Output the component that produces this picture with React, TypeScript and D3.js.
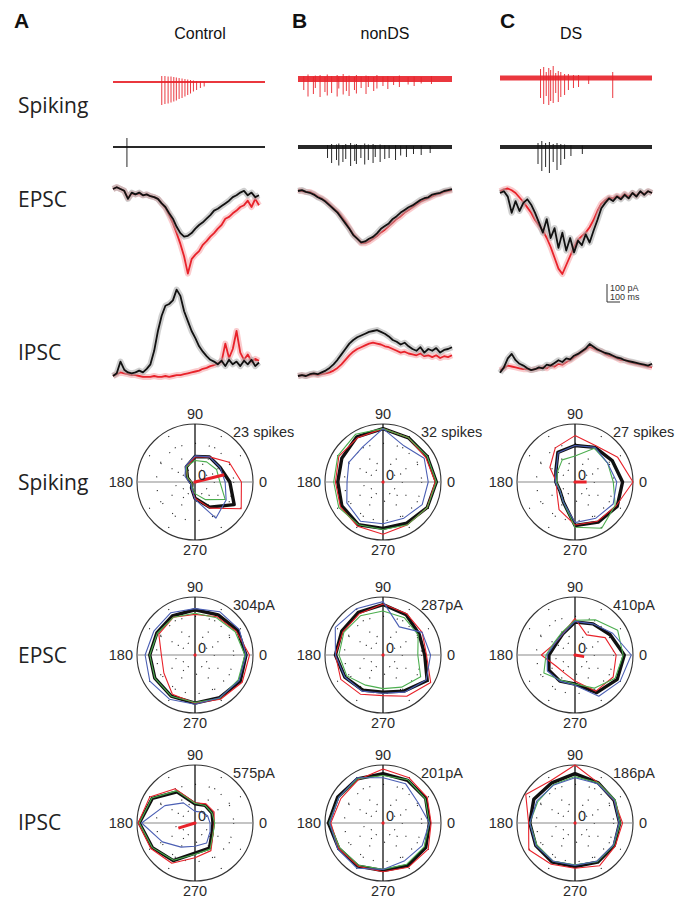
import React from "react";
import * as d3 from "d3";

const W = 683;
const H = 899;

const panelLetters = ["A", "B", "C"];
const columnTitles = ["Control", "nonDS", "DS"];
const rowLabels = ["Spiking", "EPSC", "IPSC"];

// spike trains, time in ms (trace is 1200 ms), amplitudes in uV
const ctlRedSpikeT = [385, 410, 435, 458, 480, 500, 522, 545, 568, 590, 612, 635, 660, 690, 720];
const ctlRedSpikeDown = [230, 220, 215, 205, 195, 185, 170, 160, 145, 130, 115, 95, 80, 60, 45];
const ctlRedSpikeUp = [60, 60, 55, 55, 50, 45, 40, 35, 30, 25, 20, 15, 10, 8, 5];
const ctlBlackSpikeT = [110];
const ctlBlackSpikeDown = [200];
const ctlBlackSpikeUp = [90];

const ndsRedSpikeT = [45, 78, 120, 135, 172, 210, 228, 262, 305, 318, 352, 377, 398, 440, 455, 492, 530, 548, 590, 615, 662, 700, 745, 790, 858, 905, 960, 1040];
const ndsRedSpikeDown = [110, 175, 150, 90, 180, 130, 165, 140, 175, 95, 155, 120, 170, 110, 145, 90, 150, 80, 120, 95, 70, 100, 60, 80, 55, 70, 45, 50];
const ndsRedSpikeUp = [30, 45, 25, 35, 40, 20, 45, 30, 40, 25, 50, 30, 35, 20, 40, 25, 35, 30, 20, 40, 25, 30, 20, 35, 20, 25, 20, 30];
const ndsBlackSpikeT = [230, 262, 300, 318, 350, 372, 410, 442, 455, 490, 520, 548, 585, 602, 640, 676, 710, 760, 800, 845, 900, 960, 1030];
const ndsBlackSpikeDown = [110, 160, 130, 185, 150, 120, 190, 140, 170, 110, 175, 130, 160, 100, 150, 120, 110, 130, 85, 100, 70, 80, 60];
const ndsBlackSpikeUp = [20, 30, 25, 35, 20, 30, 40, 25, 30, 20, 35, 25, 30, 20, 25, 20, 15, 20, 15, 15, 10, 15, 10];

const dsRedSpikeT = [320, 345, 365, 385, 400, 420, 440, 460, 480, 510, 540, 580, 620, 700, 890];
const dsRedSpikeDown = [200, 260, 180, 270, 230, 250, 150, 240, 190, 170, 120, 100, 90, 60, 200];
const dsRedSpikeUp = [90, 110, 60, 100, 80, 120, 50, 70, 60, 40, 40, 30, 30, 20, 60];
const dsBlackSpikeT = [300, 330, 360, 390, 420, 450, 480, 510, 560, 650];
const dsBlackSpikeDown = [170, 240, 200, 260, 150, 230, 180, 120, 90, 70];
const dsBlackSpikeUp = [40, 60, 40, 50, 30, 40, 30, 25, 20, 15];

// current traces, 40 samples each, pA (negative = inward)
const ctlEpscBlack = [0, 10, 0, -10, -55, -20, -30, -20, -35, -30, -40, -45, -55, -80, -100, -135, -165, -210, -245, -265, -260, -245, -220, -200, -185, -165, -145, -120, -110, -95, -80, -65, -45, -35, -20, -10, -35, -20, -45, -35];
const ctlEpscRed = [0, 10, 0, -10, -50, -25, -30, -25, -35, -30, -40, -45, -55, -80, -105, -145, -190, -245, -305, -375, -470, -390, -365, -345, -310, -290, -265, -245, -220, -200, -165, -155, -135, -120, -100, -90, -65, -100, -55, -90];
const ndsEpscBlack = [0, 5, -5, -10, -20, -35, -45, -60, -80, -100, -120, -150, -180, -210, -245, -265, -285, -280, -265, -255, -235, -210, -195, -180, -155, -140, -120, -105, -90, -80, -65, -50, -40, -35, -20, -15, -10, 0, 5, 10];
const ndsEpscRed = [5, 0, -5, -5, -15, -30, -40, -55, -75, -95, -115, -140, -170, -205, -240, -265, -290, -290, -280, -265, -250, -230, -215, -195, -175, -155, -140, -120, -105, -90, -75, -60, -50, -40, -30, -20, -15, -5, 0, 5];
const dsEpscBlack = [0, 10, -20, -110, -45, -100, -55, -35, -65, -110, -165, -220, -145, -250, -195, -305, -220, -320, -250, -330, -265, -290, -230, -275, -210, -150, -85, -55, -30, -45, -20, -35, -10, -30, 0, -20, 10, -10, 10, 0];
const dsEpscRed = [10, 20, 25, 15, 0, -25, -50, -80, -110, -150, -180, -210, -250, -300, -360, -420, -450, -400, -350, -300, -260, -240, -220, -190, -150, -100, -60, -40, -25, -30, -15, -25, -5, -20, 0, -15, 5, -5, 10, 0];

const ctlIpscBlack = [0, 15, 80, 35, 20, 15, 20, 30, 20, 40, 65, 140, 250, 335, 390, 400, 420, 480, 445, 360, 305, 250, 210, 165, 135, 110, 90, 80, 65, 85, 55, 90, 65, 80, 55, 85, 65, 90, 55, 75];
const ctlIpscRed = [0, 10, 20, 15, 10, 5, 5, 0, -5, -5, -5, 0, -5, -5, 0, -5, 0, 5, 5, 10, 15, 20, 25, 30, 40, 45, 55, 60, 70, 80, 180, 100, 150, 250, 130, 90, 120, 80, 95, 85];
const ndsIpscBlack = [0, 5, 0, 10, 15, 10, 20, 30, 45, 65, 90, 120, 150, 180, 200, 215, 225, 235, 245, 250, 255, 245, 235, 220, 200, 190, 175, 185, 165, 150, 140, 160, 130, 150, 140, 155, 130, 145, 150, 160];
const ndsIpscRed = [0, 5, 0, 5, 10, 5, 10, 15, 20, 30, 45, 65, 90, 115, 135, 150, 160, 170, 180, 185, 180, 175, 165, 160, 150, 140, 130, 135, 125, 120, 115, 125, 110, 115, 105, 115, 100, 110, 105, 115];
const dsIpscBlack = [-10, 20, 70, 95, 60, 40, 30, 15, 5, 10, 20, 15, 35, 30, 45, 60, 50, 70, 65, 85, 95, 110, 125, 150, 135, 120, 110, 100, 95, 85, 75, 70, 60, 55, 50, 45, 40, 35, 30, 40];
const dsIpscRed = [5, 15, 30, 25, 20, 15, 10, 10, 5, 10, 15, 20, 15, 30, 25, 40, 35, 50, 60, 75, 90, 105, 120, 135, 125, 115, 110, 95, 85, 80, 70, 60, 60, 50, 45, 40, 35, 30, 25, 20];

// polar tuning, 12 directions, fraction of max; rows: black, red, green, blue
const directions = [0, 30, 60, 90, 120, 150, 180, 210, 240, 270, 300, 330];
const ctlSpikingR = [
  [0.6, 0.5, 0.5, 0.44, 0.3, 0.15, 0.08, 0.06, 0.12, 0.28, 0.5, 0.78],
  [0.8, 0.68, 0.5, 0.43, 0.3, 0.15, 0.06, 0.06, 0.12, 0.28, 0.52, 0.92],
  [0.43, 0.43, 0.4, 0.37, 0.3, 0.15, 0.06, 0.06, 0.1, 0.2, 0.35, 0.6],
  [0.52, 0.5, 0.5, 0.45, 0.32, 0.2, 0.1, 0.08, 0.12, 0.3, 0.72, 0.62],
];
const ndsSpikingR = [
  [0.92, 0.88, 0.88, 0.92, 0.9, 0.82, 0.78, 0.82, 0.85, 0.8, 0.82, 0.88],
  [0.9, 0.85, 0.88, 0.92, 0.88, 0.88, 0.82, 0.85, 0.88, 0.9, 0.85, 0.88],
  [0.92, 0.88, 0.88, 0.92, 0.95, 0.9, 0.85, 0.88, 0.85, 0.82, 0.85, 0.88],
  [0.78, 0.82, 0.72, 0.92, 0.7, 0.68, 0.62, 0.72, 0.78, 0.72, 0.72, 0.78],
];
const dsSpikingR = [
  [0.82, 0.74, 0.69, 0.63, 0.59, 0.38, 0.33, 0.3, 0.4, 0.75, 0.8, 0.84],
  [1.0, 0.85, 0.72, 0.8, 0.68, 0.5, 0.32, 0.36, 0.55, 0.74, 0.78, 0.82],
  [0.66, 0.65, 0.67, 0.45, 0.44, 0.35, 0.32, 0.3, 0.4, 0.78, 0.92, 0.8],
  [0.72, 0.65, 0.69, 0.63, 0.58, 0.38, 0.34, 0.3, 0.4, 0.7, 0.72, 0.76],
];
const ctlEpscR = [
  [0.88, 0.85, 0.8, 0.78, 0.78, 0.76, 0.78, 0.8, 0.82, 0.83, 0.85, 0.9],
  [0.94, 0.82, 0.76, 0.7, 0.75, 0.72, 0.58, 0.62, 0.78, 0.83, 0.88, 0.94],
  [0.86, 0.8, 0.74, 0.72, 0.75, 0.75, 0.78, 0.8, 0.82, 0.82, 0.86, 0.86],
  [0.88, 0.88, 0.86, 0.8, 0.84, 0.82, 0.86, 0.9, 0.88, 0.85, 0.85, 0.88],
];
const ndsEpscR = [
  [0.72, 0.72, 0.8, 0.87, 0.85, 0.82, 0.82, 0.76, 0.7, 0.64, 0.72, 0.88],
  [0.75, 0.78, 0.82, 0.88, 0.82, 0.8, 0.82, 0.84, 0.78, 0.7, 0.82, 0.95],
  [0.6, 0.7, 0.74, 0.76, 0.78, 0.78, 0.76, 0.72, 0.6, 0.58, 0.64, 0.75],
  [0.82, 0.78, 0.56, 0.92, 0.92, 0.95, 0.82, 0.76, 0.72, 0.66, 0.74, 0.86],
];
const dsEpscR = [
  [0.85, 0.7, 0.62, 0.57, 0.42, 0.38, 0.45, 0.52, 0.52, 0.5, 0.75, 0.84],
  [0.71, 0.6, 0.4, 0.63, 0.42, 0.4, 0.58, 0.38, 0.36, 0.45, 0.72, 0.76],
  [0.83, 0.85, 0.7, 0.6, 0.45, 0.42, 0.5, 0.62, 0.5, 0.5, 0.66, 0.8],
  [0.97, 0.75, 0.62, 0.58, 0.42, 0.4, 0.48, 0.55, 0.52, 0.52, 0.82, 0.9],
];
const ctlIpscR = [
  [0.31, 0.34, 0.35, 0.33, 0.62, 0.85, 0.96, 0.85, 0.75, 0.52, 0.5, 0.34],
  [0.33, 0.38, 0.38, 0.35, 0.68, 0.9, 0.98, 0.88, 0.8, 0.6, 0.55, 0.36],
  [0.34, 0.34, 0.35, 0.34, 0.64, 0.86, 0.96, 0.85, 0.74, 0.54, 0.52, 0.36],
  [0.26, 0.25, 0.22, 0.2, 0.4, 0.6, 0.92, 0.65, 0.48, 0.4, 0.4, 0.3],
];
const ndsIpscR = [
  [0.8, 0.85, 0.85, 0.85, 0.88, 0.9, 0.94, 0.88, 0.86, 0.82, 0.85, 0.85],
  [0.83, 0.88, 0.9, 0.93, 0.86, 0.84, 0.9, 0.88, 0.86, 0.84, 0.88, 0.9],
  [0.8, 0.84, 0.86, 0.82, 0.88, 0.88, 0.93, 0.86, 0.84, 0.8, 0.82, 0.82],
  [0.8, 0.7, 0.78, 0.78, 0.9, 0.88, 0.92, 0.9, 0.9, 0.8, 0.75, 0.78],
];
const dsIpscR = [
  [0.77, 0.78, 0.8, 0.85, 0.8, 0.82, 0.78, 0.78, 0.78, 0.75, 0.78, 0.78],
  [0.82, 0.78, 0.8, 1.0, 0.84, 0.98, 0.8, 0.92, 0.82, 0.78, 0.85, 0.8],
  [0.78, 0.8, 0.8, 0.8, 0.76, 0.74, 0.78, 0.76, 0.76, 0.72, 0.77, 0.77],
  [0.76, 0.78, 0.78, 0.78, 0.75, 0.76, 0.78, 0.78, 0.76, 0.73, 0.76, 0.76],
];
const polarMax = [
  ["23 spikes", "32 spikes", "27 spikes"],
  ["304pA", "287pA", "410pA"],
  ["575pA", "201pA", "186pA"],
];
// mean vector (deg, fraction of max)
const vectorAngle = [[14, 0, 0], [0, 0, -10], [197, 0, 0]];
const vectorLen = [[0.52, 0.02, 0.2], [0.02, 0.02, 0.16], [0.3, 0.02, 0.02]];

const RED = "#e8222a";
const PINK = "#f5a0a4";
const GRAY = "#a8a8a8";
const GREEN = "#4cae4f";
const BLUE = "#4b5fb4";

const sans = "'Liberation Sans', Arial, sans-serif";

function SpikeTrain(props: {
  times: number[]; down: number[]; up: number[];
  x0: number; x1: number; base: number; color: string; band: number;
}) {
  const { times, down, up, x0, x1, base, color, band } = props;
  const x = d3.scaleLinear().domain([0, 1200]).range([x0, x1]);
  const y = d3.scaleLinear().domain([0, 100]).range([base, base - 10]);
  return (
    <g>
      <line x1={x0} x2={x1} y1={base} y2={base} stroke={color} strokeWidth={band} opacity={0.9} />
      {times.map((t, i) => (
        <line key={i} x1={x(t)} x2={x(t)} y1={y(up[i])} y2={y(-down[i])} stroke={color} strokeWidth={0.9} />
      ))}
    </g>
  );
}

function Trace(props: { values: number[]; x0: number; x1: number; base: number; color: string; halo: string }) {
  const { values, x0, x1, base, color, halo } = props;
  const x = d3.scaleLinear().domain([0, values.length - 1]).range([x0, x1]);
  const y = d3.scaleLinear().domain([0, 100]).range([base, base - 18]);
  const line = d3.line<number>().x((_, i) => x(i)).y((d) => y(d));
  const d = line(values) || "";
  return (
    <g fill="none" strokeLinejoin="round">
      <path d={d} stroke={halo} strokeWidth={6} opacity={0.55} />
      <path d={d} stroke={color} strokeWidth={1.8} />
    </g>
  );
}

function Polar(props: { cx: number; cy: number; rows: number[][]; label: string; vAng: number; vLen: number }) {
  const { cx, cy, rows, label, vAng, vLen } = props;
  const R = 58;
  const r = d3.scaleLinear().domain([0, 1]).range([0, R]);
  const radial = d3
    .lineRadial<number>()
    .angle((_, i) => ((90 - directions[i]) * Math.PI) / 180)
    .radius((d) => r(d))
    .curve(d3.curveLinearClosed);
  const colors = ["#111", RED, GREEN, BLUE];
  const widths = [3.4, 1.1, 1.1, 1.1];
  const spokes = [30, 60, 120, 150, 210, 240, 300, 330];
  const va = (vAng * Math.PI) / 180;
  return (
    <g transform={`translate(${cx},${cy})`}>
      <circle r={R} fill="none" stroke="#333" strokeWidth={1.1} />
      {[1 / 3, 2 / 3].map((f) => (
        <circle key={f} r={r(f)} fill="none" stroke="#222" strokeWidth={1.2} strokeDasharray="1 13" />
      ))}
      {spokes.map((a) => (
        <line key={a} x1={0} y1={0} x2={r(1) * Math.cos((a * Math.PI) / 180)} y2={-r(1) * Math.sin((a * Math.PI) / 180)}
          stroke="#222" strokeWidth={1.2} strokeDasharray="1 12" />
      ))}
      <line x1={-R} x2={R} y1={0} y2={0} stroke="#8a8a8a" strokeWidth={1.2} />
      <line x1={0} x2={0} y1={-R} y2={R} stroke="#111" strokeWidth={1.3} />
      {rows.map((vals, k) => (
        <path key={k} d={radial(vals) || ""} fill="none" stroke={colors[k]} strokeWidth={widths[k]} strokeLinejoin="round" />
      ))}
      <line x1={0} y1={0} x2={r(vLen) * Math.cos(va)} y2={-r(vLen) * Math.sin(va)} stroke={RED} strokeWidth={3} />
      <circle r={1.6} fill={RED} />
      <g fontFamily={sans} fontSize={14.5} fill="#2a2a2a">
        <text x={0} y={-R - 5} textAnchor="middle">90</text>
        <text x={0} y={R + 15} textAnchor="middle">270</text>
        <text x={-R - 4} y={5} textAnchor="end">180</text>
        <text x={R + 6} y={5}>0</text>
        <text x={3} y={-2}>0</text>
        <text x={38} y={-45}>{label}</text>
      </g>
    </g>
  );
}

export default function App() {
  const spikeX = [[113, 265], [298, 452], [500, 652]];
  const traceX = [[113, 259], [298, 452], [500, 652]];
  const spikeData = [
    { rt: ctlRedSpikeT, rd: ctlRedSpikeDown, ru: ctlRedSpikeUp, bt: ctlBlackSpikeT, bd: ctlBlackSpikeDown, bu: ctlBlackSpikeUp, band: [2, 2], rb: 82 },
    { rt: ndsRedSpikeT, rd: ndsRedSpikeDown, ru: ndsRedSpikeUp, bt: ndsBlackSpikeT, bd: ndsBlackSpikeDown, bu: ndsBlackSpikeUp, band: [6, 4], rb: 79 },
    { rt: dsRedSpikeT, rd: dsRedSpikeDown, ru: dsRedSpikeUp, bt: dsBlackSpikeT, bd: dsBlackSpikeDown, bu: dsBlackSpikeUp, band: [5, 4], rb: 78 },
  ];
  const epsc = [[ctlEpscBlack, ctlEpscRed], [ndsEpscBlack, ndsEpscRed], [dsEpscBlack, dsEpscRed]];
  const ipsc = [[ctlIpscBlack, ctlIpscRed], [ndsIpscBlack, ndsIpscRed], [dsIpscBlack, dsIpscRed]];
  const epscBase = [189, 191, 193];
  const ipscBase = [376, 376, 371];
  const polarRows = [
    [ctlSpikingR, ndsSpikingR, dsSpikingR],
    [ctlEpscR, ndsEpscR, dsEpscR],
    [ctlIpscR, ndsIpscR, dsIpscR],
  ];
  const polarCx = [195, 383, 575];
  const polarCy = [482, 655, 823];
  const letterX = [14, 292, 500];
  const titleX = [200, 385, 571];

  return (
    <svg width={W} height={H} style={{ position: "absolute", left: 0, top: 0, background: "#fff" }}>
      {panelLetters.map((l, i) => (
        <text key={l} x={letterX[i]} y={28} fontFamily={sans} fontWeight="bold" fontSize={21} fill="#111">{l}</text>
      ))}
      {columnTitles.map((t, i) => (
        <text key={t} x={titleX[i]} y={39} textAnchor="middle" fontFamily={sans} fontSize={16} fill="#111">{t}</text>
      ))}
      {[113, 207, 360, 490, 663, 830].map((y, i) => (
        <text key={i} x={18} y={y} fontFamily="'Open Sans', sans-serif" fontSize={21} fill="#222">{rowLabels[i % 3]}</text>
      ))}

      {spikeData.map((s, i) => (
        <g key={i}>
          <SpikeTrain times={s.rt} down={s.rd} up={s.ru} x0={spikeX[i][0]} x1={spikeX[i][1]} base={s.rb} color={RED} band={s.band[0]} />
          <SpikeTrain times={s.bt} down={s.bd} up={s.bu} x0={spikeX[i][0]} x1={spikeX[i][1]} base={147} color="#111" band={s.band[1]} />
        </g>
      ))}

      {epsc.map((pair, i) => (
        <g key={i}>
          <Trace values={pair[1]} x0={traceX[i][0]} x1={traceX[i][1]} base={epscBase[i]} color={RED} halo={PINK} />
          <Trace values={pair[0]} x0={traceX[i][0]} x1={traceX[i][1]} base={epscBase[i]} color="#111" halo={GRAY} />
        </g>
      ))}
      {ipsc.map((pair, i) => (
        <g key={i}>
          <Trace values={pair[1]} x0={traceX[i][0]} x1={traceX[i][1]} base={ipscBase[i]} color={RED} halo={PINK} />
          <Trace values={pair[0]} x0={traceX[i][0]} x1={traceX[i][1]} base={ipscBase[i]} color="#111" halo={GRAY} />
        </g>
      ))}

      <g stroke="#333" strokeWidth={1}>
        <line x1={607} x2={607} y1={284} y2={302} />
        <line x1={607} x2={620} y1={302} y2={302} />
      </g>
      <g fontFamily={sans} fontSize={9} fill="#333">
        <text x={610} y={291}>100 pA</text>
        <text x={610} y={300}>100 ms</text>
      </g>

      {polarRows.map((row, ri) =>
        row.map((rows, ci) => (
          <Polar key={`${ri}-${ci}`} cx={polarCx[ci]} cy={polarCy[ri]} rows={rows} label={polarMax[ri][ci]}
            vAng={vectorAngle[ri][ci]} vLen={vectorLen[ri][ci]} />
        ))
      )}
    </svg>
  );
}
